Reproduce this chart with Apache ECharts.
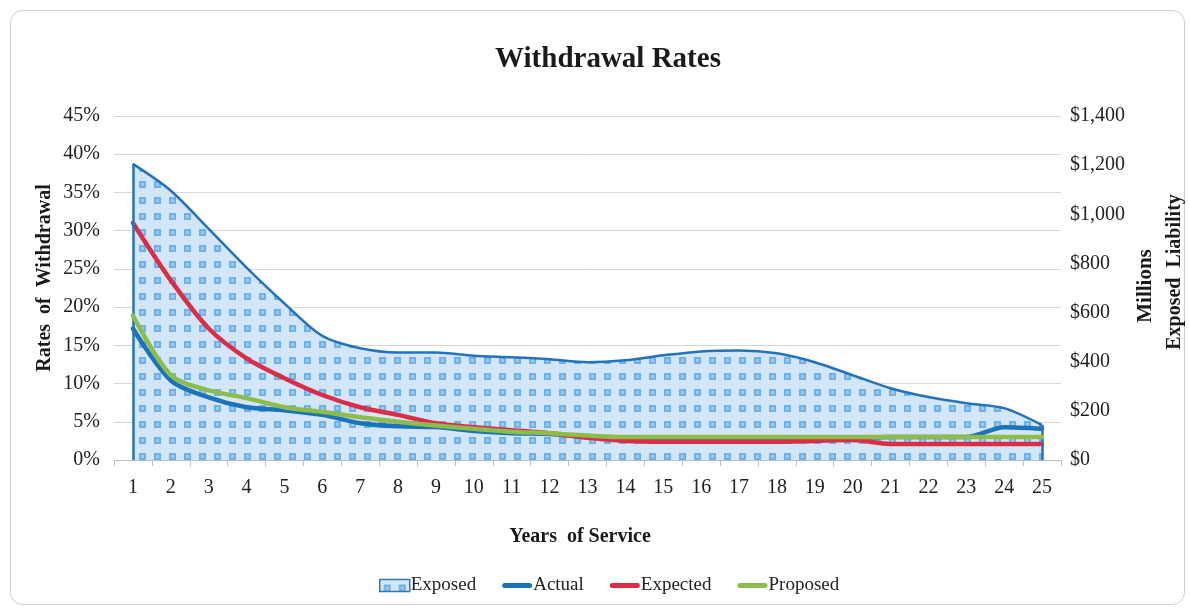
<!DOCTYPE html>
<html>
<head>
<meta charset="utf-8">
<script src="https://cdn.jsdelivr.net/npm/echarts@6/dist/echarts.min.js"></script>
<style>
html,body{margin:0;padding:0;background:#fff;}
#main{width:1190px;height:608px;}
</style>
</head>
<body>
<div id="main"></div>
<script>
// ---- data ----
const years = ['1','2','3','4','5','6','7','8','9','10','11','12','13','14','15','16','17','18','19','20','21','22','23','24','25'];
const exposed = [1205,1096,941,783,637,505,455,438,438,424,418,410,398,406,426,442,446,434,398,345,292,256,231,211,142];
const actual = [17.2,10.4,8.2,6.9,6.5,5.9,4.8,4.4,4.3,3.8,3.5,3.4,3.0,2.8,2.9,2.9,2.9,2.9,2.9,2.9,3.0,3.0,3.0,4.3,4.1];
const expected = [31.0,23.5,17.2,13.3,10.7,8.5,6.9,5.9,4.8,4.3,3.9,3.5,2.9,2.5,2.4,2.4,2.4,2.4,2.5,2.6,2.1,2.1,2.1,2.1,2.1];
const proposed = [18.9,11.1,9.1,8.1,6.9,6.3,5.6,5.0,4.5,4.1,3.7,3.5,3.2,3.0,3.0,3.0,3.0,3.0,3.0,3.0,3.0,3.0,3.0,3.0,3.0];
const leftTicks = ['0%','5%','10%','15%','20%','25%','30%','35%','40%','45%'];
const rightTicks = ['$0','$200','$400','$600','$800','$1,000','$1,200','$1,400'];

// ---- pattern ----
function makePattern(){
  const c = document.createElement('canvas');
  c.width = 15; c.height = 16;
  const g = c.getContext('2d');
  g.fillStyle = '#d3e6f8'; g.fillRect(0,0,15,16);
  g.fillStyle = '#6eb0e8'; g.fillRect(4,5,7,7);
  g.fillStyle = '#9ccaf0'; g.fillRect(6,7,3,3);
  return c;
}
const pat = {image: makePattern(), repeat: 'repeat'};
const barIcon = 'path://M2.5,0 L27.5,0 A2.5,2.5 0 0 1 27.5,5 L2.5,5 A2.5,2.5 0 0 1 2.5,0 Z';

const SERIF = '"Liberation Serif","Times New Roman",serif';
const chart = echarts.init(document.getElementById('main'), null, {renderer:'canvas'});
chart.setOption({
  backgroundColor: '#fff',
  animation: false,
  textStyle: {fontFamily: SERIF, color: '#222'},
  title: {
    text: 'Withdrawal Rates', left: 603, top: 40, textAlign: 'center',
    textStyle: {fontFamily: SERIF, fontSize: 29, fontWeight: 'bold', color: '#1a1a1a'}
  },
  grid: {left: 114, right: 129, top: 116, bottom: 148},
  legend: {
    left: 374, top: 571, itemWidth: 30, itemHeight: 12, itemGap: 26,
    textStyle: {fontFamily: SERIF, fontSize: 19, color: '#222', padding: [0,0,0,-4]},
    data: [
      {name: 'Exposed', icon: 'rect', itemStyle: {color: pat, borderColor: '#2e78bd', borderWidth: 1.5}},
      {name: 'Actual', icon: barIcon},
      {name: 'Expected', icon: barIcon},
      {name: 'Proposed', icon: barIcon}
    ]
  },
  xAxis: {
    type: 'category', data: years, boundaryGap: true,
    axisLine: {lineStyle: {color: '#bdbdbd', width: 1}},
    axisTick: {show: true, length: 6, lineStyle: {color: '#bdbdbd'}},
    axisLabel: {fontFamily: SERIF, fontSize: 20, color: '#222', margin: 18}
  },
  yAxis: [
    {
      type: 'value', min: 0, max: 45, interval: 5, position: 'left',
      axisLine: {show: false}, axisTick: {show: false},
      splitLine: {lineStyle: {color: '#d6d6d6', width: 1}},
      axisLabel: {fontFamily: SERIF, fontSize: 20, color: '#222', margin: 14,
        formatter: (v) => leftTicks[Math.round(v/5)]}
    },
    {
      type: 'value', min: 0, max: 1400, interval: 200, position: 'right',
      axisLine: {show: false}, axisTick: {show: false}, splitLine: {show: false},
      axisLabel: {fontFamily: SERIF, fontSize: 20, color: '#222', margin: 9,
        formatter: (v) => rightTicks[Math.round(v/200)]}
    }
  ],
  series: [
    {
      name: 'Exposed', type: 'line', yAxisIndex: 1, data: exposed, smooth: 0.3,
      symbol: 'none', z: 1,
      lineStyle: {color: '#2472b9', width: 2.5},
      itemStyle: {color: '#2472b9'},
      areaStyle: {color: pat, opacity: 1},
      markLine: {
        silent: true, symbol: 'none', label: {show: false},
        lineStyle: {color: '#2472b9', width: 2.5, type: 'solid'},
        data: [
          [{coord: [years[0], 0]}, {coord: [years[0], exposed[0]]}],
          [{coord: [years[years.length-1], 0]}, {coord: [years[years.length-1], exposed[exposed.length-1]]}]
        ]
      }
    },
    {name: 'Actual', type: 'line', data: actual, smooth: 0.3, symbol: 'none', z: 3,
      lineStyle: {color: '#1b73b9', width: 4.5, cap: 'round', join: 'round'}, itemStyle: {color: '#1b73b9'}},
    {name: 'Expected', type: 'line', data: expected, smooth: 0.3, symbol: 'none', z: 4,
      lineStyle: {color: '#d92d48', width: 4.5, cap: 'round', join: 'round'}, itemStyle: {color: '#d92d48'}},
    {name: 'Proposed', type: 'line', data: proposed, smooth: 0.3, symbol: 'none', z: 5,
      lineStyle: {color: '#8dbb4c', width: 4.5, cap: 'round', join: 'round'}, itemStyle: {color: '#8dbb4c'}}
  ],
  graphic: [
    {type: 'rect', left: 8, top: 8, shape: {width: 1174, height: 594, r: 12}, z: -10,
      style: {fill: 'none', stroke: '#cfcfcf', lineWidth: 1}},
    {type: 'text', x: 45, y: 278, rotation: Math.PI/2,
      style: {text: 'Rates  of  Withdrawal', font: 'bold 20px ' + SERIF, fill: '#1a1a1a', align: 'center', verticalAlign: 'middle'}},
    {type: 'text', x: 1146, y: 286, rotation: Math.PI/2,
      style: {text: 'Millions', font: 'bold 21px ' + SERIF, fill: '#1a1a1a', align: 'center', verticalAlign: 'middle'}},
    {type: 'text', x: 1175, y: 272, rotation: Math.PI/2,
      style: {text: 'Exposed  Liability', font: 'bold 20px ' + SERIF, fill: '#1a1a1a', align: 'center', verticalAlign: 'middle'}},
    {type: 'text', x: 580, y: 537,
      style: {text: 'Years  of Service', font: 'bold 20px ' + SERIF, fill: '#1a1a1a', align: 'center', verticalAlign: 'middle'}}
  ]
});
</script>
</body>
</html>
